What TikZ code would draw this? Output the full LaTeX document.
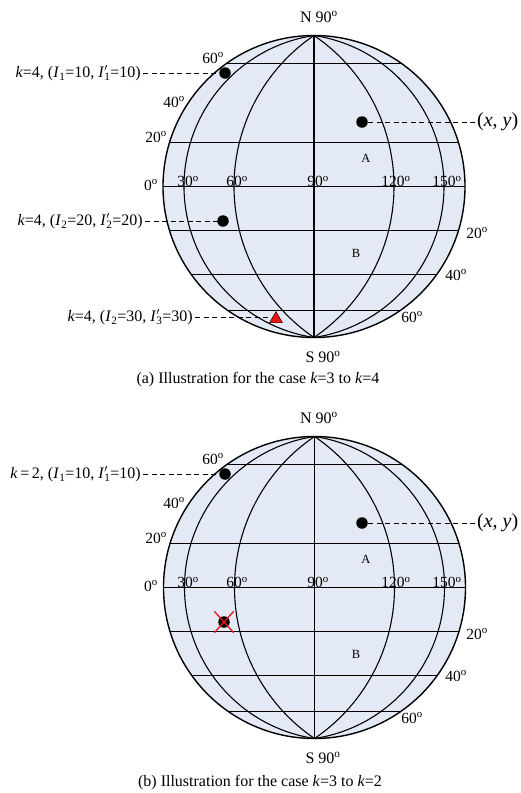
\documentclass[tikz,border=0pt]{standalone}
\usepackage{fontspec}
\setmainfont{Liberation Serif}
\usetikzlibrary{shapes.geometric,shapes.misc}
\definecolor{globefill}{RGB}{228,234,245}
\definecolor{markred}{RGB}{235,20,20}
\newcommand{\dg}[1]{#1\textsuperscript{o}}
\newcommand{\Ip}[1]{\textit{I}\rlap{$'$}\textsubscript{#1}}
\newcommand{\Is}[1]{\textit{I}\textsubscript{#1}}
\newcommand{\drawglobe}[2]{%
  \fill[globefill] (#1,#2) circle[radius=151];
  \begin{scope}
    \clip (#1,#2) circle[radius=151];
    \foreach \d in {-123,-44,0,44,88,124} \draw[gridline] (#1-160,#2+\d) -- (#1+160,#2+\d);
  \end{scope}
  \draw[gridline] (#1,#2-151) -- (#1,#2+151);
  % meridians: circular arcs through both poles
  \draw[gridline] (#1,#2-151) arc[start angle=235.83, end angle=124.17, radius=182.506];
  \draw[gridline] (#1,#2-151) arc[start angle=-55.83, end angle=55.83, radius=182.506];
  \draw[gridline] (#1,#2-151) arc[start angle=261.45, end angle=98.55, radius=152.696];
  \draw[gridline] (#1,#2-151) arc[start angle=-81.45, end angle=81.45, radius=152.696];
  \draw[rim] (#1,#2) circle[radius=151];
}
\begin{document}
\begin{tikzpicture}[x=1pt,y=-1pt,
  gridline/.style={line width=1.1pt},
  rim/.style={line width=1.4pt},
  lab/.style={font=\fontsize{16}{18}\selectfont, inner sep=2pt},
  deg/.style={font=\fontsize{15.5}{17}\selectfont, inner sep=0pt},
  small/.style={font=\fontsize{12.5}{14}\selectfont, inner sep=0pt},
  pole/.style={font=\fontsize{16}{18}\selectfont, inner sep=0pt},
  dot/.style={circle, fill=black, minimum size=11.5pt, inner sep=0pt},
  lead/.style={dash pattern=on 5pt off 3.5pt, line width=0.8pt},
  xylab/.style={font=\fontsize{20}{22}\selectfont, inner sep=2pt, anchor=west}]
\useasboundingbox (0,0) rectangle (521,793);

% ---------------- (a) ----------------
\drawglobe{314}{186.5}
\node[pole] (na) at (319,17) {N \dg{90}};
\node[pole] (sa) at (323,357) {S \dg{90}};
\node[deg] (a60l) at (213,58) {\dg{60}};
\node[deg] (a40l) at (174,102) {\dg{40}};
\node[deg] (a20l) at (156,137) {\dg{20}};
\node[deg] (a0l) at (151,185) {\dg{0}};
\node[deg, anchor=base] (a30m) at (188,186.5) {\dg{30}};
\node[deg, anchor=base] (a60m) at (237,186.5) {\dg{60}};
\node[deg, anchor=base] (a90m) at (318,186.5) {\dg{90}};
\node[deg, anchor=base] (a120m) at (396,186.5) {\dg{120}};
\node[deg, anchor=base] (a150m) at (447,186.5) {\dg{150}};
\node[deg] (a20r) at (477,233) {\dg{20}};
\node[deg] (a40r) at (456,275) {\dg{40}};
\node[deg] (a60r) at (412,317) {\dg{60}};
\node[small] (aA) at (366,158) {A};
\node[small] (aB) at (356,253) {B};

\node[lab, anchor=east] (la1) at (143,73) {\textit{k}=4, (\Is{1}=10, \Ip{1}=10)};
\node[lab, anchor=east] (la2) at (145,221) {\textit{k}=4, (\Is{2}=20, \Ip{2}=20)};
\node[lab, anchor=east] (la3) at (195,317) {\textit{k}=4, (\Is{2}=30, \Ip{3}=30)};
\node[xylab] (lxa) at (475,122) {(\textit{x}, \textit{y})};

\draw[lead] (la1.east) -- (225,73) coordinate (ca1);
\draw[lead] (la2.east) -- (223,221) coordinate (ca2);
\draw[lead] (la3.east) -- (272,317) coordinate (ca3);
\draw[lead] (lxa.west) -- (362,122) coordinate (ca4);
\node[dot] (da1) at (ca1) {};
\node[dot] (da2) at (ca2) {};
\node[dot] (da4) at (ca4) {};
\node[regular polygon, regular polygon sides=3, fill=markred, draw=black, line width=0.4pt, minimum size=15pt, inner sep=0pt] (ta) at (276,319) {};

\node[lab] (capa) at (258,380) {(a) Illustration for the case \textit{k}=3 to \textit{k}=4};

% ---------------- (b) ----------------
\drawglobe{314.5}{587.5}
\node[pole] (nb) at (319,418) {N \dg{90}};
\node[pole] (sb) at (323,758) {S \dg{90}};
\node[deg] (b60l) at (213,459) {\dg{60}};
\node[deg] (b40l) at (174,503) {\dg{40}};
\node[deg] (b20l) at (156,538) {\dg{20}};
\node[deg] (b0l) at (151,586) {\dg{0}};
\node[deg, anchor=base] (b30m) at (188,587.5) {\dg{30}};
\node[deg, anchor=base] (b60m) at (237,587.5) {\dg{60}};
\node[deg, anchor=base] (b90m) at (318,587.5) {\dg{90}};
\node[deg, anchor=base] (b120m) at (396,587.5) {\dg{120}};
\node[deg, anchor=base] (b150m) at (447,587.5) {\dg{150}};
\node[deg] (b20r) at (477,634) {\dg{20}};
\node[deg] (b40r) at (456,676) {\dg{40}};
\node[deg] (b60r) at (412,718) {\dg{60}};
\node[small] (bA) at (366,559) {A};
\node[small] (bB) at (356,654) {B};

\node[lab, anchor=east] (lb1) at (143,474) {\textit{k}\,=\,2, (\Is{1}=10, \Ip{1}=10)};
\node[xylab] (lxb) at (475,523) {(\textit{x}, \textit{y})};
\draw[lead] (lb1.east) -- (225,474) coordinate (cb1);
\draw[lead] (lxb.west) -- (362,523) coordinate (cb4);
\node[dot] (db1) at (cb1) {};
\node[dot] (db4) at (cb4) {};
\node[dot] (db2) at (224,622) {};
\node[cross out, draw=markred, line width=1.3pt, minimum width=18pt, minimum height=20pt, inner sep=0pt] (xb) at (db2) {};

\node[lab] (capb) at (260,783) {(b) Illustration for the case \textit{k}=3 to \textit{k}=2};
\end{tikzpicture}
\end{document}
